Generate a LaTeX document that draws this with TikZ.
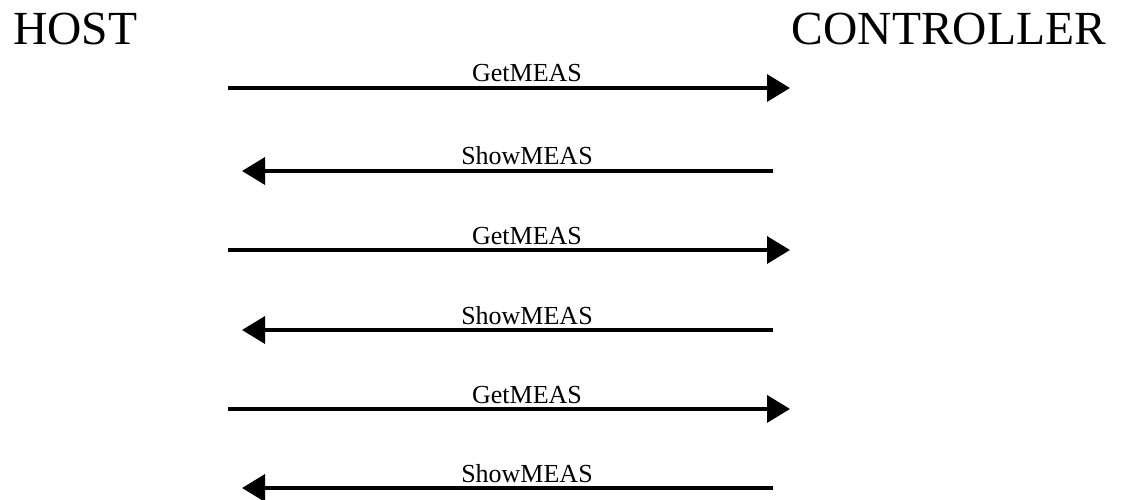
\documentclass[tikz,border=0pt]{standalone}
\usepackage{fontspec}
\setmainfont{Liberation Serif}
\usetikzlibrary{arrows.meta}
\tikzset{
  party/.style={font=\fontsize{47.5}{50}\selectfont, inner sep=0pt},
  msglabel/.style={font=\fontsize{26}{29}\selectfont, inner sep=0pt, anchor=base},
  msg/.style={line width=3.6pt, -{Triangle[length=23pt,width=27pt]}}
}
\begin{document}
\begin{tikzpicture}[x=1pt,y=-1pt]
  \useasboundingbox (0,0) rectangle (1128,500);
  % participants
  \node[party, anchor=base west] (host) at (13,45) {HOST};
  \node[party, anchor=base east] (ctrl) at (1106,45) {CONTROLLER};
  % message rows: index / y of the line / direction (1 = host to controller)
  \foreach \i/\y/\dir in {1/88/1, 2/171/0, 3/250/1, 4/330/0, 5/409/1, 6/488/0} {
    \coordinate (h\i) at (228,\y);
    \coordinate (c\i) at (773,\y);
    \coordinate (hh\i) at (242,\y);
    \coordinate (cc\i) at (790,\y);
    \ifnum\dir=1
      \draw[msg] (h\i) -- (cc\i);
      \node[msglabel] (m\i) at (527,\y-6) {GetMEAS};
    \else
      \draw[msg] (c\i) -- (hh\i);
      \node[msglabel] (m\i) at (527,\y-6) {ShowMEAS};
    \fi
  }
\end{tikzpicture}
\end{document}
